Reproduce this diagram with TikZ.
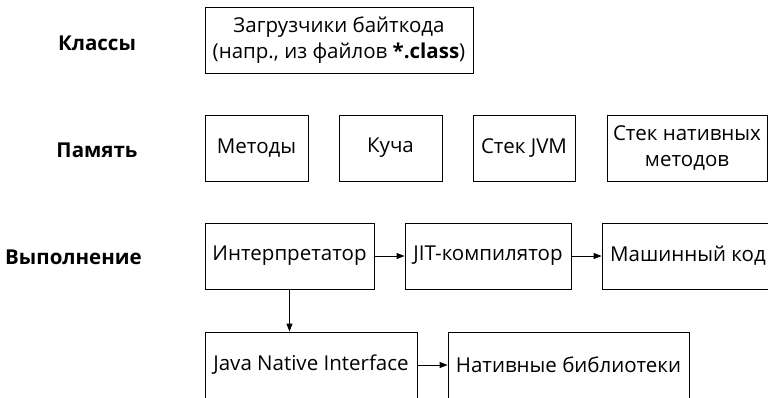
\documentclass[tikz,border=0pt]{standalone}
\usepackage{fontspec}
\setmainfont{Open Sans}
\usetikzlibrary{arrows.meta}
\tikzset{
  box/.style={draw=black, line width=0.9pt, inner sep=0pt, align=center, font=\fontsize{20.5}{26}\selectfont},
  lbl/.style={inner sep=0pt, font=\fontsize{20.5}{26}\selectfont\bfseries},
  arr/.style={-{Triangle[length=8pt,width=6pt]}, line width=0.9pt}
}
\begin{document}
\begin{tikzpicture}[x=1pt,y=-1pt]
\useasboundingbox (0,0) rectangle (768,397);
\clip (0,0) rectangle (768,397);
% row labels
\node[lbl] (lk) at (97,43) {Классы};
\node[lbl] (lp) at (97,150) {Память};
\node[lbl] (lv) at (73.5,257) {Выполнение};
% row 1
\node[box, minimum width=268pt, minimum height=66pt] (load) at (339,40) {Загрузчики байткода\\(напр., из файлов \textbf{*.class})};
% row 2
\node[box, minimum width=103pt, minimum height=66pt] (met) at (256.5,148) {Методы};
\node[box, minimum width=103pt, minimum height=66pt] (heap) at (390.5,148) {Куча};
\node[box, minimum width=102pt, minimum height=66pt] (jvms) at (524,148) {Стек JVM};
\node[box, minimum width=160pt, minimum height=66pt] (nats) at (687,148) {Стек нативных\\методов};
% row 3
\node[box, minimum width=169pt, minimum height=66pt] (interp) at (289.5,256) {Интерпретатор};
\node[box, minimum width=166pt, minimum height=66pt] (jit) at (488,256) {JIT-компилятор};
\node[box, minimum width=172pt, minimum height=66pt] (mach) at (688,256) {Машинный код};
% row 4
\node[box, minimum width=212pt, minimum height=66pt] (jni) at (311,365) {Java Native Interface};
\node[box, minimum width=241pt, minimum height=66pt] (nlib) at (568.5,365) {Нативные библиотеки};
% connectors
\draw[arr] (interp) -- (jit);
\draw[arr] (jit) -- (mach);
\draw[arr] (interp.south) -- (interp.south |- jni.north);
\draw[arr] (jni) -- (nlib);
\end{tikzpicture}
\end{document}
